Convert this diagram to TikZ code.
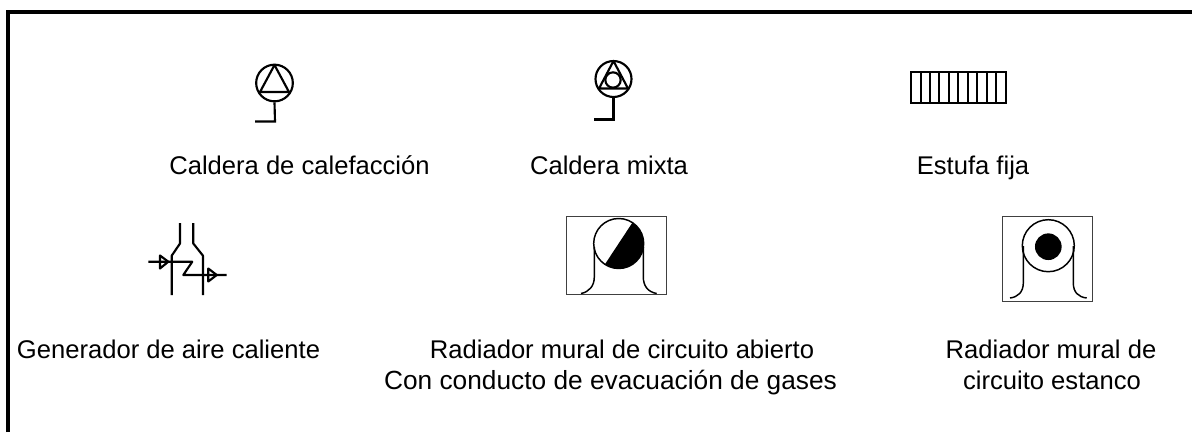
\documentclass[tikz,border=0pt]{standalone}
\usepackage{fontspec}
\setmainfont{Liberation Sans}
\begin{document}
\begin{tikzpicture}[x=0.75pt,y=-0.75pt,
  sym/.style={line width=1.6pt,black},
  grid sym/.style={line width=1.4pt,black},
  rad/.style={line width=1.1pt,black},
  frm/.style={line width=0.7pt,draw=black!75},
  lbl/.style={font=\fontsize{19.2}{23}\selectfont,inner sep=0pt,anchor=base},
  lblwide/.style={font=\fontsize{19.7}{23}\selectfont,inner sep=0pt,anchor=base},
  border/.style={line width=3pt,black}]
\useasboundingbox (0,0) rectangle (1192,432);
\fill[white] (0,0) rectangle (1192,432);
% border
\coordinate (bl) at (8,432);\coordinate (tl) at (8,12);\coordinate (tr) at (1192,12);
\draw[border,line join=miter] (bl) -- (tl) -- (tr);
% caldera de calefaccion
\node[circle,draw,sym,minimum size=27.5pt,inner sep=0pt] (c1) at (274.5,83) {};
\coordinate (c1a) at (274.5,65);\coordinate (c1b) at (260,92);\coordinate (c1c) at (289,92);
\draw[sym,line join=round] (c1a) -- (c1b) -- (c1c) -- cycle;
\coordinate (c1s) at (275,121.5);\coordinate (c1e) at (255,121.5);
\draw[sym] (c1.south) -- (c1s) -- (c1e);
% caldera mixta
\node[circle,draw,sym,minimum size=27pt,inner sep=0pt] (c2) at (613.5,79) {};
\coordinate (c2a) at (613.5,61);\coordinate (c2b) at (599,88.5);\coordinate (c2c) at (628,88.5);
\draw[sym,line join=round] (c2a) -- (c2b) -- (c2c) -- cycle;
\node[circle,draw,sym,fill=white,minimum size=11.5pt,inner sep=0pt] (c2i) at (613,80) {};
\coordinate (c2s) at (613.5,119.5);\coordinate (c2e) at (594,119.5);
\draw[sym] (c2.south) -- (c2s) -- (c2e);
% estufa
\coordinate (e1) at (911,72);\coordinate (e2) at (1006,103);
\draw[grid sym] (e1) rectangle (e2);
\foreach \x in {920.7,930,939.3,948.7,958.3,968,977.3,987,996.3}
  \draw[grid sym] (\x,72) -- (\x,103);
% generador
\draw[sym,line join=round] (180,223) -- (180,243.5) -- (171.7,255.7) -- (171.7,295);
\draw[sym,line join=round] (193.3,223) -- (193.3,243.5) -- (203,255.7) -- (203,295);
\draw[sym,line join=round] (148.3,261.7) -- (192.3,261.7) -- (183.3,275) -- (226.7,275);
\draw[sym,line join=round] (160,255.5) -- (160,268.5) -- (168.3,261.7) -- cycle;
\draw[sym,line join=round] (208.3,268.5) -- (208.3,281.5) -- (216.7,275) -- cycle;
% radiador abierto
\node[draw,frm,minimum width=75.5pt,minimum height=58.5pt,inner sep=0pt] (r1) at (616.3,255.8) {};
\begin{scope}
  \clip (618.7,243.5) circle[radius=25];
  \fill[black] (632.5,222.5) -- (605,264.2) -- (620,290) -- (670,250) -- (650,210) -- cycle;
\end{scope}
\node[circle,draw,rad,minimum size=37.5pt,inner sep=0pt] (r1c) at (618.7,243.5) {};
\draw[rad] (594.3,247) -- (594.3,277) .. controls (594.3,286) and (589,292) .. (581,293.5);
\draw[rad] (643.3,247) -- (643.3,277) .. controls (643.3,286) and (648,292) .. (656.7,293.5);
% radiador estanco
\node[draw,frm,minimum width=67.5pt,minimum height=63.8pt,inner sep=0pt] (r2) at (1047.7,259.2) {};
\node[circle,draw,rad,minimum size=39pt,inner sep=0pt] (r2c) at (1048.3,245.7) {};
\node[circle,fill=black,minimum size=20pt,inner sep=0pt] (r2i) at (1048.3,246.7) {};
\draw[rad] (1023.3,246) -- (1023.3,283) .. controls (1023.3,292) and (1018,297) .. (1010,298);
\draw[rad] (1073.3,246) -- (1073.3,283) .. controls (1073.3,292) and (1078,297) .. (1086.7,298);
% labels
\node[lbl] (t1) at (299.5,174) {Caldera de calefacción};
\node[lbl] (t2) at (609,174) {Caldera mixta};
\node[lbl] (t3) at (973,174) {Estufa fija};
\node[lbl] (t4) at (168.5,358) {Generador de aire caliente};
\node[lbl] (t5) at (622,358) {Radiador mural de circuito abierto};
\node[lblwide] (t5b) at (610.5,389) {Con conducto de evacuación de gases};
\node[lbl] (t6) at (1051,358) {Radiador mural de};
\node[lbl] (t6b) at (1052,389) {circuito estanco};
\end{tikzpicture}
\end{document}
